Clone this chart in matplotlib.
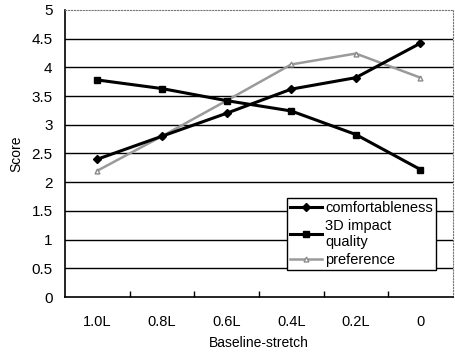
import numpy as np
import matplotlib.pyplot as plt

plt.rcParams['font.family'] = ['Liberation Sans', 'DejaVu Sans']

# Datos
categorias = ['1.0L', '0.8L', '0.6L', '0.4L', '0.2L', '0']
comfort = [2.4, 2.8, 3.2, 3.62, 3.82, 4.42]
impacto_3d = [3.78, 3.63, 3.42, 3.24, 2.83, 2.22]
preferencia = [2.2, 2.8, 3.42, 4.05, 4.24, 3.82]

x = np.arange(len(categorias))

fig = plt.figure(figsize=(4.55, 3.54), dpi=100)
ax = fig.add_axes([0.143, 0.161, 0.852, 0.811])

# Lineas de rejilla horizontales
for v in np.arange(0.5, 5.0, 0.5):
    ax.axhline(v, color='black', linewidth=1.0, zorder=0)

ax.plot(x, comfort, color='black', linewidth=2.2, marker='D', markersize=4,
        label='comfortableness', zorder=3)
ax.plot(x, impacto_3d, color='black', linewidth=2.2, marker='s', markersize=4.5,
        label='3D impact\nquality', zorder=3)
ax.plot(x, preferencia, color='#9a9a9a', linewidth=1.8, marker='^', markersize=3.5,
        markerfacecolor='white', markeredgecolor='#8a8a8a',
        label='preference', zorder=2)

ax.set_xlim(-0.5, len(categorias) - 0.5)
ax.set_ylim(0, 5)
ax.set_yticks(np.arange(0, 5.01, 0.5))
ax.set_yticklabels(['0', '0.5', '1', '1.5', '2', '2.5', '3', '3.5', '4', '4.5', '5'],
                   fontsize=11)
ax.set_xticks(x)
ax.set_xticklabels(categorias, fontsize=10.5)
ax.tick_params(axis='x', which='major', length=0, pad=13)
ax.set_xticks(np.arange(0.5, len(categorias) - 0.5, 1), minor=True)
ax.tick_params(axis='x', which='minor', direction='in', length=4, width=1)
ax.tick_params(axis='y', length=0, pad=9)

ax.set_xlabel('Baseline-stretch', fontsize=10, labelpad=5)
ax.set_ylabel('Score', fontsize=10, labelpad=6)

ax.spines['left'].set_linewidth(1.2)
ax.spines['bottom'].set_linewidth(1.2)
ax.spines['top'].set_linestyle(':')
ax.spines['top'].set_color('#777777')
ax.spines['right'].set_linestyle(':')
ax.spines['right'].set_color('#777777')

leg = ax.legend(loc='lower right', bbox_to_anchor=(0.975, 0.07), fontsize=10.5,
                frameon=True, fancybox=False, edgecolor='black', framealpha=1,
                handlelength=2.2, handletextpad=0.2, borderpad=0.2,
                labelspacing=0.25)
leg.get_frame().set_linewidth(1.0)

fig.savefig('out.png', dpi=100)
